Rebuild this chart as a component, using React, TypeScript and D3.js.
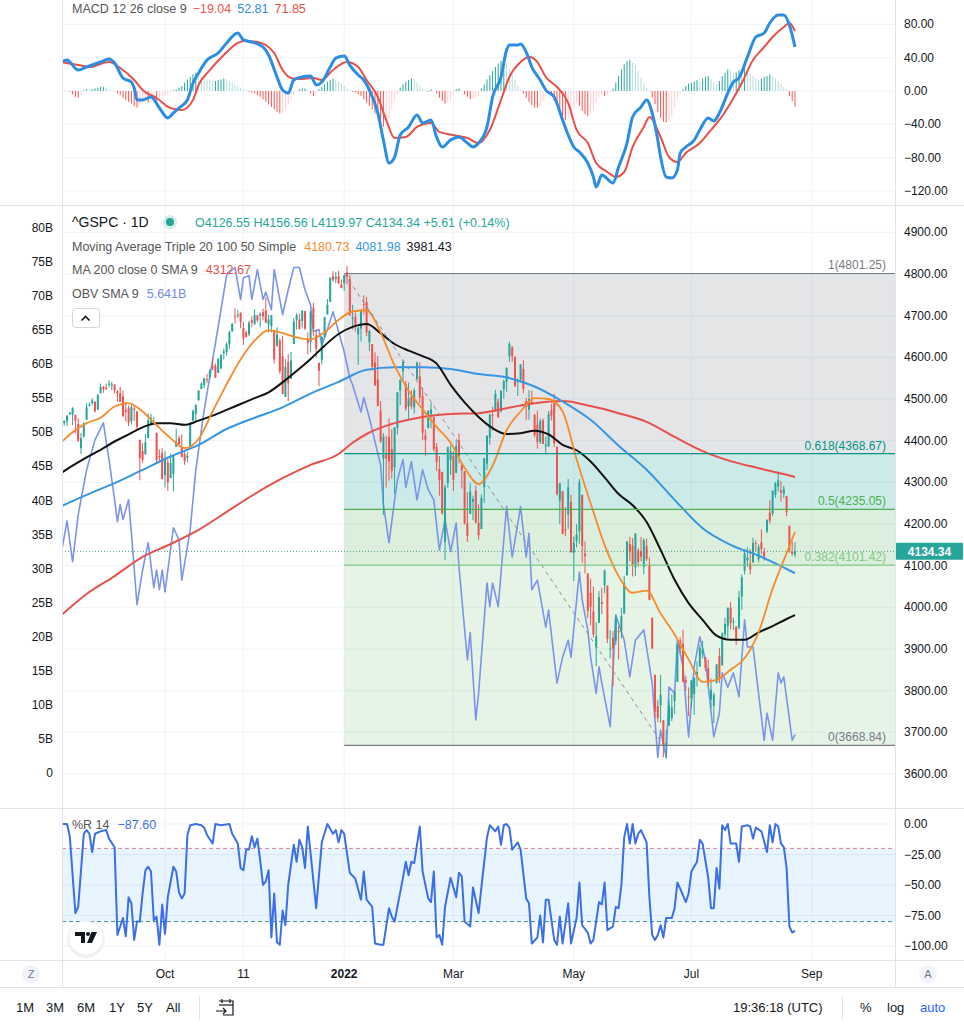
import * as d3 from "d3";

// S&P 500 daily candles, one array per month: [open, high, low, close]
const aug21 = [
  [4437, 4439, 4425, 4432], [4435, 4445, 4430, 4436], [4442, 4449, 4436, 4447], [4446, 4461, 4435, 4460],
  [4464, 4468, 4461, 4468], [4462, 4480, 4437, 4479], [4462, 4462, 4418, 4448], [4440, 4454, 4397, 4400],
  [4382, 4418, 4368, 4406], [4410, 4444, 4407, 4442], [4450, 4490, 4450, 4480], [4484, 4492, 4482, 4486],
  [4490, 4502, 4485, 4496], [4493, 4495, 4468, 4470], [4474, 4513, 4474, 4509], [4514, 4537, 4513, 4529],
  [4529, 4531, 4515, 4523],
];
const sep21 = [
  [4528, 4537, 4522, 4524], [4534, 4545, 4528, 4537], [4532, 4541, 4521, 4535], [4535, 4535, 4513, 4521],
  [4519, 4521, 4494, 4514], [4514, 4529, 4493, 4493], [4506, 4520, 4457, 4459], [4474, 4492, 4446, 4469],
  [4479, 4485, 4435, 4443], [4447, 4486, 4439, 4481], [4477, 4485, 4448, 4474], [4470, 4471, 4427, 4433],
  [4402, 4402, 4305, 4358], [4375, 4394, 4347, 4354], [4367, 4416, 4367, 4396], [4406, 4465, 4406, 4449],
  [4438, 4464, 4436, 4455], [4442, 4457, 4437, 4443], [4419, 4419, 4347, 4353], [4363, 4379, 4351, 4360],
  [4371, 4382, 4307, 4308],
];
const oct21 = [
  [4317, 4375, 4288, 4357], [4348, 4356, 4279, 4300], [4310, 4369, 4310, 4346], [4320, 4365, 4278, 4363],
  [4385, 4429, 4385, 4399], [4406, 4412, 4386, 4391], [4385, 4415, 4360, 4361], [4368, 4374, 4342, 4351],
  [4359, 4373, 4348, 4364], [4387, 4439, 4387, 4438], [4448, 4475, 4448, 4471], [4464, 4487, 4447, 4486],
  [4497, 4521, 4496, 4520], [4524, 4540, 4524, 4537], [4533, 4551, 4526, 4550], [4547, 4560, 4538, 4545],
  [4553, 4572, 4547, 4567], [4579, 4598, 4569, 4575], [4580, 4585, 4551, 4551], [4563, 4597, 4562, 4597],
  [4573, 4608, 4573, 4605],
];
const nov21 = [
  [4610, 4621, 4595, 4614], [4613, 4636, 4604, 4631], [4631, 4664, 4621, 4660], [4662, 4683, 4662, 4680],
  [4699, 4718, 4681, 4697], [4702, 4714, 4694, 4702], [4707, 4708, 4670, 4685], [4670, 4685, 4630, 4646],
  [4660, 4664, 4648, 4649], [4655, 4688, 4651, 4683], [4689, 4698, 4673, 4683], [4679, 4715, 4679, 4701],
  [4701, 4701, 4684, 4689], [4700, 4708, 4672, 4704], [4708, 4717, 4689, 4698], [4712, 4744, 4683, 4683],
  [4679, 4702, 4660, 4691], [4675, 4702, 4660, 4701], [4664, 4664, 4585, 4595], [4628, 4672, 4625, 4655],
  [4641, 4646, 4560, 4567],
];
const dec21 = [
  [4602, 4652, 4511, 4513], [4505, 4596, 4505, 4577], [4589, 4608, 4495, 4538], [4548, 4613, 4548, 4592],
  [4632, 4694, 4632, 4686], [4690, 4706, 4667, 4701], [4691, 4705, 4667, 4668], [4687, 4713, 4671, 4712],
  [4711, 4711, 4666, 4669], [4642, 4660, 4607, 4635], [4637, 4712, 4612, 4710], [4719, 4731, 4651, 4669],
  [4653, 4666, 4600, 4621], [4587, 4587, 4531, 4568], [4594, 4651, 4583, 4649], [4650, 4697, 4646, 4697],
  [4703, 4740, 4703, 4726], [4733, 4792, 4733, 4791], [4795, 4807, 4781, 4786], [4788, 4805, 4778, 4793],
  [4795, 4808, 4776, 4778], [4775, 4787, 4766, 4766],
];
const jan22 = [
  [4778, 4797, 4759, 4797], [4804, 4819, 4775, 4794], [4788, 4798, 4700, 4701], [4693, 4726, 4667, 4696],
  [4697, 4707, 4662, 4677], [4655, 4673, 4582, 4671], [4669, 4715, 4638, 4713], [4728, 4749, 4703, 4726],
  [4733, 4745, 4651, 4660], [4637, 4666, 4615, 4663], [4632, 4632, 4568, 4577], [4588, 4612, 4531, 4533],
  [4547, 4603, 4483, 4483], [4472, 4495, 4395, 4398], [4357, 4418, 4222, 4410], [4367, 4411, 4287, 4357],
  [4409, 4453, 4304, 4350], [4380, 4428, 4309, 4327], [4337, 4432, 4273, 4432], [4431, 4516, 4415, 4516],
];
const feb22 = [
  [4520, 4547, 4485, 4546], [4566, 4595, 4544, 4589], [4536, 4543, 4472, 4477], [4482, 4540, 4452, 4501],
  [4505, 4521, 4476, 4484], [4480, 4526, 4465, 4521], [4547, 4590, 4547, 4587], [4554, 4588, 4491, 4504],
  [4507, 4527, 4402, 4419], [4413, 4427, 4364, 4402], [4430, 4472, 4430, 4472], [4464, 4490, 4430, 4475],
  [4457, 4457, 4374, 4380], [4385, 4394, 4327, 4349], [4332, 4363, 4268, 4305], [4325, 4325, 4222, 4226],
  [4156, 4294, 4114, 4288], [4298, 4385, 4287, 4385], [4354, 4389, 4318, 4374],
];
const mar22 = [
  [4364, 4375, 4279, 4306], [4323, 4401, 4322, 4387], [4401, 4417, 4345, 4363], [4342, 4343, 4285, 4329],
  [4327, 4327, 4199, 4201], [4202, 4276, 4157, 4171], [4224, 4299, 4224, 4278], [4253, 4268, 4209, 4260],
  [4280, 4292, 4201, 4204], [4203, 4247, 4162, 4173], [4188, 4271, 4188, 4262], [4288, 4358, 4251, 4358],
  [4345, 4412, 4330, 4412], [4407, 4465, 4390, 4463], [4462, 4481, 4424, 4461], [4470, 4522, 4470, 4512],
  [4494, 4501, 4455, 4456], [4470, 4520, 4468, 4520], [4523, 4546, 4501, 4543], [4541, 4575, 4517, 4575],
  [4603, 4637, 4589, 4632], [4624, 4627, 4589, 4602], [4600, 4603, 4530, 4530],
];
const apr22 = [
  [4540, 4549, 4507, 4546], [4547, 4583, 4539, 4583], [4572, 4593, 4514, 4525], [4495, 4503, 4450, 4481],
  [4474, 4521, 4450, 4500], [4494, 4520, 4487, 4488], [4462, 4464, 4408, 4413], [4438, 4472, 4381, 4397],
  [4397, 4453, 4392, 4447], [4449, 4453, 4392, 4392], [4386, 4410, 4367, 4391], [4386, 4471, 4386, 4463],
  [4473, 4489, 4448, 4460], [4490, 4512, 4385, 4394], [4385, 4386, 4268, 4272], [4256, 4299, 4200, 4297],
  [4279, 4279, 4175, 4176], [4187, 4240, 4171, 4184], [4223, 4308, 4188, 4288], [4253, 4270, 4132, 4132],
];
const may22 = [
  [4131, 4170, 4063, 4155], [4159, 4200, 4144, 4175], [4182, 4308, 4153, 4301], [4270, 4270, 4107, 4147],
  [4129, 4158, 4081, 4123], [4081, 4082, 3975, 3991], [4035, 4069, 3957, 4001], [3990, 4050, 3928, 3935],
  [3904, 3964, 3859, 3930], [3963, 4039, 3963, 4024], [4013, 4047, 3984, 4008], [4053, 4091, 4034, 4088],
  [4052, 4052, 3914, 3924], [3900, 3946, 3877, 3901], [3927, 3943, 3811, 3901], [3920, 3982, 3910, 3974],
  [3943, 3955, 3875, 3941], [3943, 3999, 3926, 3979], [3985, 4075, 3985, 4058], [4077, 4158, 4077, 4158],
  [4152, 4169, 4110, 4132],
];
const jun22 = [
  [4149, 4166, 4074, 4101], [4096, 4178, 4075, 4177], [4137, 4142, 4098, 4109], [4135, 4169, 4110, 4121],
  [4097, 4165, 4080, 4161], [4148, 4165, 4111, 4116], [4102, 4120, 4017, 4018], [3975, 3975, 3901, 3901],
  [3838, 3838, 3735, 3750], [3763, 3778, 3724, 3735], [3765, 3838, 3723, 3790], [3729, 3729, 3640, 3667],
  [3666, 3707, 3637, 3675], [3716, 3779, 3716, 3765], [3734, 3791, 3727, 3760], [3775, 3802, 3744, 3796],
  [3821, 3913, 3821, 3912], [3920, 3928, 3889, 3901], [3913, 3946, 3820, 3822], [3826, 3836, 3800, 3819],
  [3786, 3808, 3739, 3785],
];
const jul22 = [
  [3782, 3826, 3762, 3825], [3792, 3832, 3742, 3831], [3831, 3871, 3810, 3845], [3858, 3910, 3858, 3903],
  [3888, 3919, 3877, 3899], [3880, 3880, 3847, 3855], [3854, 3874, 3810, 3819], [3779, 3829, 3759, 3802],
  [3764, 3796, 3722, 3790], [3819, 3863, 3817, 3863], [3883, 3902, 3818, 3831], [3861, 3940, 3860, 3937],
  [3935, 3975, 3927, 3960], [3955, 3999, 3927, 3999], [3999, 4013, 3947, 3962], [3966, 3975, 3946, 3967],
  [3954, 3954, 3910, 3921], [3951, 4040, 3947, 4024], [4026, 4079, 3994, 4072], [4088, 4140, 4079, 4130],
];
const aug22 = [
  [4113, 4144, 4097, 4119], [4105, 4140, 4079, 4091], [4108, 4167, 4107, 4155], [4154, 4161, 4135, 4152],
  [4115, 4151, 4108, 4145], [4156, 4187, 4128, 4140], [4134, 4142, 4112, 4122], [4182, 4211, 4178, 4210],
  [4227, 4257, 4201, 4208], [4225, 4280, 4219, 4280], [4270, 4301, 4263, 4298], [4290, 4326, 4278, 4305],
  [4281, 4303, 4254, 4275], [4273, 4292, 4263, 4284], [4267, 4267, 4219, 4228], [4195, 4196, 4131, 4138],
  [4133, 4159, 4124, 4129], [4126.55, 4156.56, 4119.97, 4134.34],
];

// moving averages, [bar index, value]
const ma20 = [
  [0, 4390], [5, 4420], [10, 4442], [15, 4455], [20, 4482], [25, 4490], [30, 4470], [35, 4437], [40, 4406],
  [45, 4382], [50, 4404], [55, 4470], [60, 4535], [65, 4595], [70, 4640], [75, 4665], [80, 4658], [85, 4648],
  [90, 4643], [95, 4660], [100, 4690], [105, 4710], [110, 4713], [115, 4660], [120, 4580], [125, 4520],
  [130, 4475], [135, 4433], [140, 4395], [145, 4335], [150, 4296], [155, 4340], [160, 4425], [165, 4470],
  [170, 4502], [175, 4500], [180, 4470], [185, 4355], [190, 4250], [195, 4150], [200, 4075], [205, 4035],
  [210, 4040], [215, 3985], [220, 3935], [225, 3875], [230, 3821], [235, 3826], [240, 3850], [245, 3878],
  [250, 3940], [255, 4045], [260, 4130], [263, 4180.73],
];
const ma50 = [
  [0, 4318], [5, 4340], [10, 4360], [15, 4378], [20, 4398], [25, 4415], [30, 4432], [35, 4442], [40, 4442],
  [45, 4438], [50, 4448], [55, 4460], [60, 4474], [65, 4488], [70, 4502], [75, 4516], [80, 4540], [85, 4567],
  [90, 4596], [95, 4628], [100, 4656], [105, 4673], [110, 4680], [115, 4658], [120, 4632], [125, 4616],
  [130, 4603], [135, 4585], [140, 4534], [145, 4492], [150, 4457], [155, 4430], [160, 4416], [165, 4418],
  [170, 4424], [175, 4415], [180, 4390], [185, 4377], [190, 4350], [195, 4312], [200, 4272], [205, 4245],
  [210, 4205], [215, 4138], [220, 4066], [225, 4010], [230, 3970], [235, 3932], [240, 3922], [245, 3922],
  [250, 3940], [255, 3955], [260, 3972], [263, 3981.43],
];
const ma100 = [
  [0, 4240], [10, 4270], [20, 4298], [30, 4330], [40, 4362], [50, 4390], [60, 4428], [70, 4455], [80, 4480],
  [90, 4513], [100, 4541], [110, 4570], [120, 4576], [130, 4576], [140, 4572], [150, 4560], [160, 4552],
  [170, 4530], [180, 4494], [190, 4450], [200, 4388], [210, 4330], [220, 4258], [230, 4190], [240, 4150],
  [250, 4124], [260, 4092], [263, 4081.98],
];
const ma200 = [
  [0, 3975], [10, 4032], [20, 4075], [30, 4121], [40, 4152], [50, 4186], [60, 4229], [70, 4272], [80, 4310],
  [90, 4342], [100, 4368], [105, 4395], [110, 4416], [120, 4442], [130, 4457], [140, 4464], [150, 4466],
  [160, 4478], [170, 4490], [180, 4495], [190, 4483], [200, 4466], [210, 4445], [220, 4409], [230, 4375],
  [240, 4351], [250, 4334], [260, 4318], [263, 4312.67],
];

// OBV (billions), [bar index, value]
const obv = [
  [1, 32.3], [3, 37.0], [5, 31.0], [7, 37.9], [10, 44.5], [13, 48.9], [16, 51.4], [18, 46.0], [20, 40.1],
  [21, 36.9], [22, 39.4], [23, 37.2], [25, 40.1], [26, 35.2], [28, 24.7], [30, 29.8], [32, 33.8], [34, 27.2],
  [35, 29.8], [36, 26.9], [37, 29.8], [38, 26.6], [41, 36.0], [43, 34.2], [44, 28.3], [47, 35.7], [49, 44.5],
  [52, 53.3], [55, 60.6], [58, 68.0], [60, 73.1], [63, 74.2], [65, 69.5], [66, 72.7], [68, 73.0], [69, 69.5],
  [71, 73.9], [73, 69.5], [74, 70.6], [76, 68.0], [77, 73.9], [79, 69.5], [80, 67.3], [82, 70.9], [84, 74.2],
  [86, 74.2], [88, 70.9], [90, 68.7], [91, 64.8], [93, 65.1], [94, 62.8], [96, 65.1], [98, 67.7], [100, 64.8],
  [102, 61.8], [104, 58.0], [105, 57.0], [108, 53.0], [109, 55.1], [111, 52.1], [115, 45.2], [116, 39.4],
  [118, 33.8], [120, 40.1], [121, 43.0], [123, 46.0], [124, 41.9], [126, 45.7], [128, 40.1], [130, 44.5],
  [132, 41.6], [134, 40.1], [136, 32.7], [138, 37.2], [140, 32.5], [142, 36.7], [143, 30.2], [146, 16.6],
  [147, 20.6], [149, 7.8], [150, 11.7], [153, 27.9], [154, 24.4], [155, 27.9], [157, 24.4], [160, 39.1],
  [162, 31.7], [165, 39.1], [167, 31.7], [168, 35.2], [169, 26.9], [171, 28.3], [174, 21.4], [175, 23.9],
  [178, 13.2], [180, 17.0], [182, 19.5], [183, 17.0], [186, 29.5], [187, 25.4], [189, 21.0], [190, 17.0],
  [192, 11.7], [193, 15.6], [194, 13.2], [197, 6.8], [199, 23.2], [202, 19.5], [204, 14.1], [206, 19.5],
  [209, 21.0], [212, 13.2], [214, 2.3], [215, 6.3], [217, 2.3], [218, 12.6], [220, 11.7], [221, 19.5],
  [223, 15.6], [225, 5.3], [227, 15.6], [229, 20.0], [231, 16.6], [234, 5.3], [236, 8.8], [237, 14.7],
  [239, 12.6], [241, 14.7], [243, 11.2], [245, 22.5], [246, 18.5], [248, 18.5], [252, 4.8], [253, 8.8],
  [255, 4.8], [257, 14.7], [258, 13.2], [259, 14.1], [262, 4.8], [263, 5.641],
];

// MACD line and signal, [bar index, value]
const macdLine = [
  [1, 34.8], [3, 37.2], [7, 25.2], [10, 28.8], [15, 34.8], [18, 38.4], [20, 33.6], [23, 15.6], [26, 10.8],
  [27, 3.6], [28, -10.8], [30, -10.8], [33, -7.2], [36, -20.4], [39, -32.4], [41, -26.4], [43, -20.4],
  [46, -10.8], [48, 9.6], [50, 21.6], [53, 37.2], [57, 45.6], [60, 57.7], [64, 69.7], [66, 61.3], [69, 58.9],
  [73, 52.9], [75, 43.2], [78, 16.8], [80, 1.2], [82, -2.4], [84, 13.2], [87, 16.8], [90, 18.0], [92, 7.2],
  [94, 10.8], [97, 28.8], [99, 39.6], [102, 42.0], [104, 31.2], [107, 19.2], [109, 13.2], [111, 1.2],
  [114, -26.4], [116, -58.9], [118, -86.5], [120, -79.3], [122, -52.9], [125, -43.2], [128, -28.8],
  [130, -38.4], [133, -34.8], [135, -55.3], [137, -67.3], [140, -58.9], [143, -55.3], [146, -62.5],
  [148, -67.3], [150, -62.5], [153, -43.2], [155, -7.2], [158, 16.8], [160, 49.2], [161, 55.3], [164, 55.3],
  [165, 56.5], [167, 46.8], [169, 28.8], [172, 13.2], [174, 1.2], [177, -7.2], [180, -34.8], [182, -52.9],
  [184, -67.3], [186, -73.3], [189, -86.5], [191, -103.3], [192, -115.3], [194, -100.9], [198, -110.5],
  [200, -91.3], [203, -62.5], [205, -31.2], [208, -19.2], [210, -10.8], [212, -26.4], [214, -58.9],
  [215, -79.3], [217, -103.3], [219, -104.5], [221, -94.9], [222, -74.5], [224, -67.3], [227, -58.9],
  [229, -46.8], [232, -32.4], [234, -36.0], [236, -26.4], [239, -2.4], [241, 10.8], [243, 15.6], [246, 40.8],
  [249, 64.9], [252, 69.7], [254, 81.7], [257, 91.3], [259, 91.3], [261, 79.3], [263, 52.81],
];
const macdSignal = [
  [1, 34.8], [7, 31.2], [11, 28.8], [18, 34.8], [22, 27.6], [27, 13.2], [30, 1.2], [35, -8.4], [40, -20.4],
  [44, -22.8], [48, -10.8], [50, 7.2], [54, 25.2], [59, 43.2], [64, 57.7], [66, 60.1], [71, 58.9], [74, 55.3],
  [77, 45.6], [80, 25.2], [83, 15.6], [86, 14.4], [91, 15.6], [94, 13.2], [98, 25.2], [103, 34.8], [107, 28.8],
  [110, 13.2], [114, -7.2], [117, -34.8], [120, -56.5], [124, -55.3], [128, -43.2], [133, -38.4], [136, -49.2],
  [141, -52.9], [146, -56.5], [150, -62.5], [154, -46.8], [158, -10.8], [161, 16.8], [165, 34.8], [168, 40.8],
  [171, 34.8], [174, 16.8], [178, 4.8], [182, -14.4], [185, -46.8], [189, -62.5], [192, -86.5], [196, -97.3],
  [199, -103.3], [202, -97.3], [205, -67.3], [209, -43.2], [211, -31.2], [215, -55.3], [218, -79.3],
  [221, -85.3], [224, -74.5], [229, -62.5], [233, -46.8], [236, -34.8], [240, -14.4], [244, 9.6], [248, 37.2],
  [252, 52.9], [255, 64.9], [259, 76.9], [261, 81.7], [263, 71.85],
];
// MACD histogram, one value per bar
const macdHist = [
  1, 2, 1, 0, -1, -4, -7, -8, -5, 1, 2, 1, 2, 3, 4, 5, 5, 4, 2, 1, 0,
  -3, -5, -8, -11, -13, -15, -18, -20, -17, -14, -12, -14, -13, -11, -12, -10, -8, -6, -4, -2,
  1, 2, 4, 6, 10, 14, 17, 20, 22, 20, 17, 15, 14, 13, 12, 12, 13, 14, 15, 14, 12, 10, 8, 6, 4, 2, 1,
  -1, -2, -3, -5, -7, -10, -13, -16, -19, -22, -25, -27, -26, -22, -17, -10, -5, -1, 2, 3, 3, 2, -3, -6, -4,
  2, 5, 8, 11, 13, 15, 14, 12, 9, 6, 3, 1, -1, -2, -4, -6,
  -10, -14, -18, -22, -27, -32, -38, -43, -40, -33, -22, -12, -4, 4, 8, 11, 13, 15, 14, 10,
  6, 3, 1, -1, 2, 1, -3, -8, -12, -15, -14, -10, -5, 2, 3, 1, -4, -7, -10, -9, -8, -6,
  3, 8, 14, 19, 24, 29, 33, 36, 37, 33, 27, 20, 13, 7, 2,
  -3, -8, -13, -17, -20, -20, -18, -12, -6, -3, -5, -12, -18, -25, -30, -35, -33, -28, -20, -14, -18,
  -24, -28, -30, -27, -22, -15, -8, -5, -6, -4, -2, 3, 10, 18, 26, 32, 36, 37, 34, 30, 24, 16, 9, 4, 0,
  -8, -16, -25, -32, -37, -38, -36, -30, -20, -10, -3, 2, 6, 9, 10, 11, 13, 12, 15, 17, 18, 14, 10, 8,
  12, 18, 22, 26, 24, 20, 22, 25, 24, 27, 25, 22, 18, 15, 13, 15, 17, 18, 20, 18, 16, 12, 9, 5, 2,
  -6, -12, -19.04,
];

// Williams %R 14, [bar index, value]
const williamsR = [
  [1, 0], [3, 0], [4, -10], [6, -73], [7, -68], [9, -8], [10, -5], [11, -8], [12, -23], [13, -8], [15, -6],
  [17, -5], [18, -12], [20, -19], [21, -91], [23, -77], [24, -92], [25, -60], [26, -65], [27, -95], [28, -80],
  [29, -80], [30, -57], [31, -38], [32, -35], [33, -39], [34, -79], [35, -76], [36, -99], [37, -66], [38, -90],
  [39, -60], [41, -35], [42, -39], [43, -56], [44, -61], [45, -57], [46, -9], [47, -1], [49, 0], [51, -1],
  [52, -3], [53, -9], [55, -16], [56, 0], [58, -1], [61, 0], [62, -8], [64, -16], [65, -36], [66, -38],
  [67, -21], [68, -21], [69, -10], [70, -19], [71, -12], [72, -30], [73, -50], [74, -47], [75, -38], [76, -93],
  [77, -57], [78, -97], [79, -99], [80, -71], [81, -83], [82, -50], [84, -17], [85, -31], [86, -13], [87, -19],
  [88, -36], [89, -2], [90, -24], [92, -69], [94, -15], [96, 0], [98, -8], [99, -5], [100, -15], [101, -5],
  [102, -8], [104, -40], [106, -45], [108, -62], [109, -39], [110, -62], [112, -68], [113, -98], [115, -99],
  [116, -99], [118, -69], [119, -76], [120, -80], [123, -44], [124, -31], [125, -42], [126, -31], [127, -32],
  [129, -2], [130, -39], [132, -61], [133, -64], [134, -39], [135, -93], [136, -91], [137, -99], [138, -68],
  [140, -44], [142, -60], [143, -40], [144, -43], [145, -80], [147, -84], [148, -52], [150, -73], [151, -52],
  [153, -11], [154, -1], [156, -6], [157, -2], [158, -17], [159, -1], [160, 0], [161, -3], [162, -21],
  [164, -15], [165, -21], [167, -61], [168, -65], [169, -98], [171, -93], [172, -75], [173, -97], [174, -62],
  [175, -62], [177, -95], [178, -99], [179, -76], [180, -98], [182, -65], [183, -98], [185, -77], [186, -48],
  [187, -83], [189, -89], [190, -98], [191, -95], [193, -64], [194, -66], [195, -48], [196, -87], [198, -84],
  [199, -68], [200, -69], [201, -50], [202, -11], [203, 0], [204, -16], [205, 0], [206, -16], [207, -8],
  [208, -5], [210, -15], [211, -60], [212, -91], [213, -95], [214, -91], [215, -83], [216, -93], [217, -77],
  [219, -77], [220, -69], [221, -48], [222, -53], [224, -64], [225, -57], [226, -39], [228, -31], [229, -13],
  [230, -16], [232, -44], [233, -69], [234, -69], [235, -36], [236, -53], [237, -1], [238, -5], [239, 0],
  [240, -16], [242, -16], [243, -31], [244, -2], [246, -1], [247, -2], [248, -12], [249, -3], [251, -6],
  [253, -23], [254, -1], [255, -15], [256, 0], [257, -2], [258, -16], [259, -19], [260, -36], [261, -84],
  [262, -89], [263, -87.6],
];

// fib retracement drawn from the Jan high to the Jun low
const fibHigh = 4801.25;
const fibLow = 3668.84;
const fibStartBar = 102;
const fibEndBar = 216;
const fibRatios = [1, 0.618, 0.5, 0.382, 0];
const fibLineColors = ["#787b86", "#009688", "#4caf50", "#81c784", "#787b86"];
const fibFills = ["rgba(120,123,134,0.2)", "rgba(0,150,136,0.2)", "rgba(76,175,80,0.2)", "rgba(76,175,80,0.14)"];

// axis ticks
const priceTicks = [3600, 3700, 3800, 3900, 4000, 4100, 4200, 4300, 4400, 4500, 4600, 4700, 4800, 4900];
const obvTicks = [0, 5, 10, 15, 20, 25, 30, 35, 40, 45, 50, 55, 60, 65, 70, 75, 80];
const macdTicks = [80, 40, 0, -40, -80, -120];
const wrTicks = [0, -25, -50, -75, -100];
const timeTicks = [
  { bar: 38, label: "Oct" }, { bar: 66, label: "11" }, { bar: 102, label: "2022" }, { bar: 141, label: "Mar" },
  { bar: 184, label: "May" }, { bar: 226, label: "Jul" }, { bar: 269, label: "Sep" },
];
const rangeButtons = ["1M", "3M", "6M", "1Y", "5Y", "All"];
const lastPrice = 4134.34;

const FONT = "'Liberation Sans', Arial, sans-serif";
const TXT = "#131722";
const GRID = "#f0f3fa";
const BORDER = "#e0e3eb";
const UP = "#26a69a";
const DOWN = "#ef5350";

const plotL = 62;
const plotR = 895;

const fmt = (v: number) => (v < 0 ? "\u2212" : "") + Math.abs(v).toFixed(2);

export default function App() {
  const candles = [...aug21, ...sep21, ...oct21, ...nov21, ...dec21, ...jan22, ...feb22, ...mar22, ...apr22, ...may22, ...jun22, ...jul22, ...aug22];

  const x = d3.scaleLinear().domain([0, 263]).range([58.6, 795]);
  const yP = d3.scaleLinear().domain([3600, 4800]).range([774, 274]);
  const yObv = d3.scaleLinear().domain([0, 80]).range([773, 228]);
  const yM = d3.scaleLinear().domain([-120, 80]).range([190.9, 24.4]);
  const yR = d3.scaleLinear().domain([-100, 0]).range([946, 824]);

  const smooth = (ys: d3.ScaleLinear<number, number>) =>
    d3.line<number[]>().x((d) => x(d[0])).y((d) => ys(d[1])).curve(d3.curveMonotoneX);
  const jagged = (ys: d3.ScaleLinear<number, number>) =>
    d3.line<number[]>().x((d) => x(d[0])).y((d) => ys(d[1]));

  const fibPrices = fibRatios.map((r) => fibLow + r * (fibHigh - fibLow));
  const fibX0 = x(fibStartBar);

  const vGrid = timeTicks.map((t) => x(t.bar));

  return (
    <svg width={964} height={1024} style={{ position: "absolute", left: 0, top: 0, background: "#fff" }} fontFamily={FONT}>
      <defs>
        <clipPath id="cM"><rect x={plotL} y={0} width={plotR - plotL} height={205} /></clipPath>
        <clipPath id="cP"><rect x={plotL} y={206} width={plotR - plotL} height={602} /></clipPath>
        <clipPath id="cR"><rect x={plotL} y={809} width={plotR - plotL} height={151} /></clipPath>
        <filter id="sh" x="-50%" y="-50%" width="200%" height="200%">
          <feDropShadow dx="0" dy="1" stdDeviation="1.5" floodColor="#000" floodOpacity="0.15" />
        </filter>
      </defs>
      <rect width={964} height={1024} fill="#fff" />

      {/* vertical grid */}
      {vGrid.map((gx, i) => (
        <line key={"vg" + i} x1={gx} x2={gx} y1={0} y2={960} stroke={GRID} />
      ))}
      {/* horizontal grids */}
      {macdTicks.map((t) => (
        <line key={"mg" + t} x1={plotL} x2={plotR} y1={yM(t)} y2={yM(t)} stroke={GRID} />
      ))}
      {priceTicks.map((t) => (
        <line key={"pg" + t} x1={plotL} x2={plotR} y1={yP(t)} y2={yP(t)} stroke={GRID} />
      ))}
      {wrTicks.map((t) => (
        <line key={"rg" + t} x1={plotL} x2={plotR} y1={yR(t)} y2={yR(t)} stroke={GRID} />
      ))}

      {/* ---------- MACD pane ---------- */}
      <g clipPath="url(#cM)">
        {macdHist.map((v, i) => {
          const prev = i > 0 ? macdHist[i - 1] : v;
          const col = v >= 0 ? (v >= prev ? "#26a69a" : "#b2dfdb") : v <= prev ? "#ff5252" : "#ffcdd2";
          const y0 = yM(0);
          const y1 = yM(v);
          return <rect key={"h" + i} x={x(i) - 0.5} width={1} y={Math.min(y0, y1)} height={Math.max(0.8, Math.abs(y1 - y0))} fill={col} />;
        })}
        <path d={smooth(yM)(macdSignal) || ""} fill="none" stroke="#ea4f47" strokeWidth={2} />
        <path d={smooth(yM)(macdLine) || ""} fill="none" stroke="#2b8de3" strokeWidth={3} strokeLinejoin="round" />
      </g>
      <text x={72} y={13} fontSize={12.5} fill="#555">
        MACD 12 26 close 9
        <tspan dx={6} fill="#ef5350">{"\u221219.04"}</tspan>
        <tspan dx={6} fill="#2b8de3">52.81</tspan>
        <tspan dx={6} fill="#ea4f47">71.85</tspan>
      </text>
      {macdTicks.map((t) => (
        <text key={"ml" + t} x={904} y={yM(t) + 4} fontSize={12} fill={TXT}>{fmt(t)}</text>
      ))}

      {/* ---------- price pane ---------- */}
      <g clipPath="url(#cP)">
        {fibFills.map((f, i) => (
          <rect key={"ff" + i} x={fibX0} width={plotR - fibX0} y={yP(fibPrices[i])} height={yP(fibPrices[i + 1]) - yP(fibPrices[i])} fill={f} />
        ))}
        <line x1={plotL} x2={plotR} y1={yP(lastPrice)} y2={yP(lastPrice)} stroke="#4f9a95" strokeDasharray="1,2" />
        <path d={jagged(yObv)(obv) || ""} fill="none" stroke="#7a94ea" strokeWidth={1.6} strokeLinejoin="round" />
        {candles.map((c, i) => {
          const [o, h, l, cl] = c;
          const col = cl >= o ? UP : DOWN;
          const top = yP(Math.max(o, cl));
          const bot = yP(Math.min(o, cl));
          return (
            <g key={"c" + i}>
              <line x1={x(i)} x2={x(i)} y1={yP(h)} y2={yP(l)} stroke={col} strokeWidth={1} />
              <rect x={x(i) - 1} width={2} y={top} height={Math.max(1, bot - top)} fill={col} />
            </g>
          );
        })}
        <path d={smooth(yP)(ma200) || ""} fill="none" stroke="#e8504a" strokeWidth={2} />
        <path d={smooth(yP)(ma100) || ""} fill="none" stroke="#3596e6" strokeWidth={2} />
        <path d={smooth(yP)(ma50) || ""} fill="none" stroke="#111" strokeWidth={2} />
        <path d={smooth(yP)(ma20) || ""} fill="none" stroke="#f68b2a" strokeWidth={1.8} />
        <line x1={x(fibStartBar)} y1={yP(fibHigh)} x2={x(fibEndBar)} y2={yP(fibLow)} stroke="#8a8d96" strokeDasharray="4,4" strokeWidth={1} />
        {fibPrices.map((p, i) => (
          <line key={"fl" + i} x1={fibX0} x2={plotR} y1={yP(p)} y2={yP(p)} stroke={fibLineColors[i]} strokeWidth={1.2} />
        ))}
        {fibPrices.map((p, i) => (
          <text key={"ft" + i} x={886} y={yP(p) - 4} fontSize={12} fill={fibLineColors[i]} textAnchor="end">
            {`${fibRatios[i]}(${p.toFixed(2)})`}
          </text>
        ))}
      </g>

      {/* legends */}
      <text x={72} y={227} fontSize={14} fill={TXT}>^GSPC · 1D</text>
      <circle cx={170} cy={222} r={7} fill="#d4ede9" />
      <circle cx={170} cy={222} r={4} fill={UP} />
      <text x={195} y={227} fontSize={12.5} fill={UP}>O4126.55 H4156.56 L4119.97 C4134.34 +5.61 (+0.14%)</text>
      <text x={72} y={251} fontSize={12.5} fill="#555">
        Moving Average Triple 20 100 50 Simple
        <tspan dx={8} fill="#f68b2a">4180.73</tspan>
        <tspan dx={6} fill="#3596e6">4081.98</tspan>
        <tspan dx={6} fill="#131722">3981.43</tspan>
      </text>
      <text x={72} y={274} fontSize={12.5} fill="#555">
        MA 200 close 0 SMA 9
        <tspan dx={8} fill="#e8504a">4312.67</tspan>
      </text>
      <text x={72} y={298} fontSize={12.5} fill="#555">
        OBV SMA 9
        <tspan dx={8} fill="#6f8be6">5.641B</tspan>
      </text>
      <rect x={72.5} y={308.5} width={27} height={19} rx={3} fill="#fff" stroke="#d1d4dc" />
      <path d="M81.5 320.5 L85.5 316.5 L89.5 320.5" fill="none" stroke={TXT} strokeWidth={1.6} />

      {/* price axis */}
      {priceTicks.map((t) => (
        <text key={"pl" + t} x={904} y={yP(t) + 4} fontSize={12} fill={TXT}>{t.toFixed(2)}</text>
      ))}
      {obvTicks.map((t) => (
        <text key={"ol" + t} x={53} y={yObv(t) + 4} fontSize={12} fill={TXT} textAnchor="end">{t === 0 ? "0" : t + "B"}</text>
      ))}
      <rect x={896} y={yP(lastPrice) - 8.5} width={67} height={17} fill={UP} rx={1} />
      <text x={929.5} y={yP(lastPrice) + 4.5} fontSize={12} fill="#fff" textAnchor="middle" fontWeight="bold">{lastPrice.toFixed(2)}</text>

      {/* ---------- Williams %R pane ---------- */}
      <rect x={plotL} width={plotR - plotL} y={yR(-20)} height={yR(-80) - yR(-20)} fill="rgba(33,150,243,0.1)" />
      <line x1={plotL} x2={plotR} y1={yR(-20)} y2={yR(-20)} stroke="#d9828a" strokeDasharray="4,3" />
      <line x1={plotL} x2={plotR} y1={yR(-80)} y2={yR(-80)} stroke="#3b8d86" strokeDasharray="4,3" />
      <g clipPath="url(#cR)">
        <path d={jagged(yR)(williamsR) || ""} fill="none" stroke="#3b6fe8" strokeWidth={2} strokeLinejoin="round" />
      </g>
      <text x={72} y={829} fontSize={12.5} fill="#555">
        %R 14
        <tspan dx={8} fill="#3b6fe8">{"\u221287.60"}</tspan>
      </text>
      {wrTicks.map((t) => (
        <text key={"wl" + t} x={904} y={yR(t) + 4} fontSize={12} fill={TXT}>{fmt(t)}</text>
      ))}
      {/* TradingView badge */}
      <circle cx={86} cy={938} r={17} fill="#fff" stroke="#eef0f3" filter="url(#sh)" />
      <path d="M75 932 H85 V943 H81 V936 H75 Z" fill="#131722" />
      <circle cx={88} cy={934} r={2} fill="#131722" />
      <path d="M91.5 932 H97 L92 943 H87 Z" fill="#131722" />

      {/* pane borders */}
      <line x1={0} x2={964} y1={205.5} y2={205.5} stroke={BORDER} />
      <line x1={0} x2={964} y1={808.5} y2={808.5} stroke={BORDER} />
      <line x1={0} x2={964} y1={960.5} y2={960.5} stroke={BORDER} />
      <line x1={0} x2={964} y1={987.5} y2={987.5} stroke={BORDER} />
      <line x1={plotL + 0.5} x2={plotL + 0.5} y1={0} y2={987} stroke={BORDER} />
      <line x1={plotR + 0.5} x2={plotR + 0.5} y1={0} y2={987} stroke={BORDER} />

      {/* time axis */}
      {timeTicks.map((t) => (
        <text key={"tl" + t.bar} x={x(t.bar)} y={978} fontSize={12} fill={TXT} textAnchor="middle" fontWeight={t.label === "2022" ? "bold" : "normal"}>
          {t.label}
        </text>
      ))}
      <circle cx={31} cy={974} r={9} fill="#f0f3fa" />
      <text x={31} y={978} fontSize={11} fill="#787b86" textAnchor="middle">Z</text>
      <circle cx={928} cy={974} r={9} fill="#f0f3fa" />
      <text x={928} y={978} fontSize={11} fill="#787b86" textAnchor="middle">A</text>

      {/* bottom toolbar */}
      {rangeButtons.map((b, i) => (
        <text key={b} x={[16, 46, 77, 109, 137, 166][i]} y={1012} fontSize={13} fill={TXT}>{b}</text>
      ))}
      <line x1={199.5} x2={199.5} y1={996} y2={1020} stroke={BORDER} />
      <g fill="none" stroke={TXT} strokeWidth={1.2}>
        <path d="M219 1001 H233 V1015 H223" />
        <path d="M219 1005 H233" />
        <path d="M222 999 V1003 M230 999 V1003" />
        <path d="M216 1011 H226 M223 1008 L226 1011 L223 1014" />
      </g>
      <text x={733} y={1012} fontSize={13} fill={TXT}>19:36:18 (UTC)</text>
      <line x1={842.5} x2={842.5} y1={996} y2={1020} stroke={BORDER} />
      <text x={860} y={1012} fontSize={13} fill={TXT}>%</text>
      <text x={887} y={1012} fontSize={13} fill={TXT}>log</text>
      <text x={920} y={1012} fontSize={13} fill="#2962ff">auto</text>
    </svg>
  );
}
